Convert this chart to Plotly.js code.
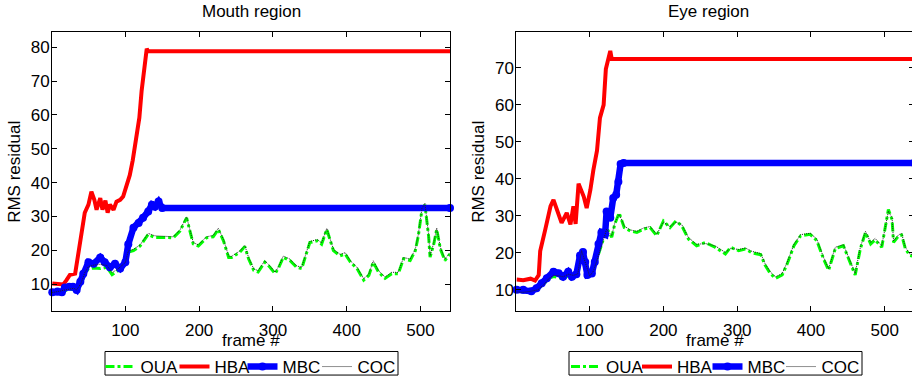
<!DOCTYPE html>
<html><head><meta charset="utf-8">
<script src="https://cdn.plot.ly/plotly-3.0.1.min.js"></script>
<style>html,body{margin:0;padding:0;overflow:hidden;background:#fff;width:912px;height:385px}#chart{width:916px;height:385px}</style>
</head><body><div id="chart"></div>
<script>
// ---------- Mouth region ----------
const mouthHBA_x = [1,16,20,25,32,35,38,42,45,50,54,58,61,66,69,73,76,79,84,88,93,97,102,106,110,113,116,119,122,124,127,129,131,540];
const mouthHBA_y = [10.2,9.9,11.1,12.8,13.1,17.5,21.8,27.2,31.1,33.5,37.3,34.9,32.0,35.4,32.0,34.7,31.1,33.5,32.0,34.4,34.9,35.9,39.3,42.2,46.6,51.5,55.4,59.2,67,70.9,78.2,79.6,78.8,78.8];
const mouthMBC_x = [1,8,14,18,24,29,34,39,43,50,57,66,72,79,86,93,100,104,111,118,124,131,136,140,145,150,540];
const mouthMBC_y = [7.6,7.8,7.6,9.0,9.2,9.2,8.3,10.7,13.1,16.5,16.0,17.9,16.5,15.0,16.0,14.6,16.5,21.8,26.7,28.1,29.6,31.5,33.5,32.9,34.4,32.5,32.5];
const mouthOUA_x = [1,10,20,30,34,40,45,50,57,66,75,82,90,100,104,111,120,131,140,156,165,174,183,192,199,210,219,226,233,240,244,255,262,267,274,280,289,296,303,308,314,323,332,339,346,350,360,366,373,382,391,398,405,414,423,430,436,443,452,461,470,477,486,493,497,502,506,511,513,518,522,527,533,540];
const mouthOUA_y = [7.6,7.8,8.2,8.6,8.0,10.0,13.0,14.6,14.8,14.6,15.0,12.8,14.0,16.0,19.5,19.9,21.3,24.7,23.8,23.8,23.7,25.7,29.6,21.9,21.3,23.7,24.0,26.2,22.8,17.9,17.9,19.4,21.1,17.5,14.1,13.6,16.5,15.0,13.1,15.0,17.9,17.0,15.0,14.6,19.4,22.3,22.8,21.8,26.2,19.9,18.4,18.9,16.5,14.6,11.2,12.6,16.5,13.6,11.7,13.1,13.1,17.5,17.0,19.9,24.2,32.0,33.5,24.2,18.0,21.8,26.2,20.4,17.0,18.9];
const mouthCOC_y = [7.5,7.9,8.4,8.8,8.3,10.3,13.4,15.2,15.6,15.9,15.5,13.4,14.5,16.4,19.8,20.3,21.6,25.0,24.3,24.1,24.0,26.0,29.9,22.3,21.6,24.0,24.4,26.5,23.2,18.3,18.2,19.8,21.4,17.9,14.5,14.0,16.9,15.4,13.5,15.3,18.3,17.4,15.4,15.0,19.8,22.6,23.2,22.2,26.5,20.3,18.8,19.3,16.9,15.0,11.6,13.0,16.9,14.0,12.1,13.5,13.5,17.9,17.4,20.3,24.6,32.4,33.9,24.6,18.4,22.2,26.6,20.8,17.4,19.3];

// ---------- Eye region ----------
const eyeHBA_x = [1,10,20,26,31,33,40,47,51,56,62,69,74,78,81,85,92,96,101,105,110,114,119,122,126,128,130,540];
const eyeHBA_y = [12.8,12.6,13.0,12.5,14.0,20.5,26.4,32.6,34.3,31.7,28.1,30.8,27.7,32.6,27.8,38.7,35.2,32.1,37.0,42.3,47.6,56.5,60.0,69.7,72.8,74.6,72.4,72.4];
const eyeMBC_x = [1,10,21,28,35,42,51,58,64,71,76,82,87,91,94,97,103,107,112,116,121,123,128,132,136,139,142,146,540];
const eyeMBC_y = [10.0,10.0,9.6,10.4,11.8,13.1,14.9,14.5,13.5,14.9,13.5,14.2,19.3,20.2,17.5,14.0,14.4,17.5,22.4,25.5,25.0,31.2,29.5,34.8,35.7,39.2,44.0,44.3,44.3];
const eyeOUA_x = [1,10,20,30,40,44,51,58,64,71,78,84,89,96,100,105,112,118,123,130,134,140,147,155,164,173,182,191,200,209,217,225,234,245,257,270,284,291,302,311,320,332,338,345,352,361,368,377,386,399,408,417,424,433,444,453,460,467,474,481,487,496,505,510,512,519,523,528,534,540];
const eyeOUA_y = [9.6,9.5,9.8,10.2,12.0,13.1,13.6,13.3,13.0,13.8,13.4,14.0,21.0,16.6,14.0,15.3,19.3,23.3,26.8,24.2,27.7,30.8,26.8,25.9,25.5,26.4,26.8,24.6,28.6,26.8,28.6,27.3,23.7,21.9,22.8,21.5,19.7,21.5,20.6,21.0,20.0,19.5,16.6,14.4,13.1,14.0,17.1,21.9,24.6,25.0,23.3,18.4,15.3,21.1,21.9,17.5,14.0,21.1,25.5,22.4,23.5,21.5,31.7,29.0,22.8,24.6,24.8,21.1,19.3,19.0];
const eyeCOC_y = [9.4,9.3,9.6,10.0,11.8,12.9,13.9,13.8,13.5,14.2,13.9,14.3,20.6,16.2,13.7,15.0,19.0,23.0,26.4,24.6,28.0,30.5,27.2,26.2,25.8,26.7,27.1,25.0,28.3,27.1,28.3,27.6,24.1,22.3,22.5,21.9,20.1,21.2,20.9,21.3,20.4,19.8,17.0,14.8,13.5,14.4,17.5,22.3,24.9,25.3,23.7,18.8,15.7,21.5,22.2,17.9,14.4,21.5,25.8,22.8,23.9,21.9,31.3,29.4,23.2,24.9,25.2,21.5,19.7,19.4];

const legendNames = ['OUA','HBA','MBC','COC'];
const xTicks = [100,200,300,400,500];
const mouthYTicks = [10,20,30,40,50,60,70,80];
const eyeYTicks = [10,20,30,40,50,60,70];
const subplotTitles = ['Mouth region','Eye region'];
const xTitle = 'frame #';
const yTitle = 'RMS residual';

const FONT = 'Liberation Sans, Arial, Helvetica, sans-serif';
const W = 916, H = 385;
const TXT = {family: FONT, size: 17, color: '#000'};

// legend ids: one legend per entry so each entry sits where the reference puts it
const legIdsL = ['legend','legend2','legend3','legend4'];
const legIdsR = ['legend5','legend6','legend7','legend8'];
const legXL = [100.5, 174.5, 242.5, 317.5];
const legXR = [566, 637, 707.5, 781.5];

function makeTraces(xa, ya, legs, oua_x, oua_y, coc_y, hba_x, hba_y, mbc_x, mbc_y){
  return [
    {x: oua_x, y: oua_y, name: legendNames[0], xaxis: xa, yaxis: ya, legend: legs[0], mode: 'lines',
     line: {color: '#00ff00', width: 3, dash: 'dashdot'}},
    {x: hba_x, y: hba_y, name: legendNames[1], xaxis: xa, yaxis: ya, legend: legs[1], mode: 'lines',
     line: {color: '#ff0000', width: 4}},
    {x: mbc_x, y: mbc_y, name: legendNames[2], xaxis: xa, yaxis: ya, legend: legs[2], mode: 'lines+markers',
     cliponaxis: false,
     line: {color: '#0000ff', width: 6.5}, marker: {color: '#0000ff', size: 8}},
    {x: oua_x, y: coc_y, name: legendNames[3], xaxis: xa, yaxis: ya, legend: legs[3], mode: 'lines',
     line: {color: '#222222', width: 1, dash: '1px,1px'}}
  ];
}

const data = [].concat(
  makeTraces('x','y', legIdsL, mouthOUA_x, mouthOUA_y, mouthCOC_y, mouthHBA_x, mouthHBA_y, mouthMBC_x, mouthMBC_y),
  makeTraces('x2','y2', legIdsR, eyeOUA_x, eyeOUA_y, eyeCOC_y, eyeHBA_x, eyeHBA_y, eyeMBC_x, eyeMBC_y)
);

function xaxisDef(dom, anchor){
  return {domain: dom, anchor: anchor, range: [0.6, 540], tickvals: xTicks, ticks: 'inside', ticklen: 5,
    tickcolor: '#000', showline: true, linecolor: '#000', linewidth: 1, mirror: 'ticks', showgrid: false,
    zeroline: false, tickfont: TXT, ticklabelstandoff: 3};
}
function yaxisDef(range, ticks, anchor){
  return {domain: [68/H, 352/H], anchor: anchor, range: range, tickvals: ticks, ticks: 'inside', ticklen: 5,
    tickcolor: '#000', showline: true, linecolor: '#000', linewidth: 1, mirror: 'ticks', showgrid: false,
    zeroline: false, tickfont: TXT, ticklabelstandoff: -2};
}
function legendDef(px){
  return {orientation: 'h', xanchor: 'left', yanchor: 'middle', x: px/W, y: (H-374)/H,
    borderwidth: 0, bgcolor: 'rgba(0,0,0,0)', font: TXT, itemwidth: 30};
}

const boxLine = {color: '#000', width: 1};
const layout = {
  width: W, height: H, margin: {l: 0, r: 0, t: 0, b: 0},
  paper_bgcolor: '#fff', plot_bgcolor: '#fff', font: TXT,
  xaxis: xaxisDef([52/W, 450/W], 'y'),
  yaxis: yaxisDef([2, 84.4], mouthYTicks, 'x'),
  xaxis2: xaxisDef([516.3/W, 914.2/W], 'y2'),
  yaxis2: yaxisDef([4.2, 79.6], eyeYTicks, 'x2'),
  shapes: [
    {type: 'rect', xref: 'paper', yref: 'paper', x0: 105/W, x1: 398/W, y0: (H-382)/H, y1: (H-358)/H, line: boxLine, fillcolor: 'rgba(0,0,0,0)', layer: 'below'},
    {type: 'rect', xref: 'paper', yref: 'paper', x0: 569/W, x1: 862/W, y0: (H-382)/H, y1: (H-358)/H, line: boxLine, fillcolor: 'rgba(0,0,0,0)', layer: 'below'}
  ],
  annotations: [
    {text: subplotTitles[0], x: 251/W, y: (H-12)/H, xref: 'paper', yref: 'paper', showarrow: false,
     xanchor: 'center', yanchor: 'middle', font: TXT},
    {text: subplotTitles[1], x: 708/W, y: (H-12)/H, xref: 'paper', yref: 'paper', showarrow: false,
     xanchor: 'center', yanchor: 'middle', font: TXT},
    {text: xTitle, x: 251/W, y: (H-347)/H, xref: 'paper', yref: 'paper', showarrow: false,
     xanchor: 'center', yanchor: 'middle', font: TXT},
    {text: xTitle, x: 715/W, y: (H-347)/H, xref: 'paper', yref: 'paper', showarrow: false,
     xanchor: 'center', yanchor: 'middle', font: TXT},
    {text: yTitle, x: 15/W, y: (H-175)/H, xref: 'paper', yref: 'paper', showarrow: false, textangle: -90,
     xanchor: 'center', yanchor: 'middle', font: TXT},
    {text: yTitle, x: 479/W, y: (H-175)/H, xref: 'paper', yref: 'paper', showarrow: false, textangle: -90,
     xanchor: 'center', yanchor: 'middle', font: TXT}
  ],
  showlegend: true
};
legIdsL.forEach((id, i) => { layout[id] = legendDef(legXL[i]); });
legIdsR.forEach((id, i) => { layout[id] = legendDef(legXR[i]); });

Plotly.newPlot('chart', data, layout, {staticPlot: true, displayModeBar: false});
</script></body></html>
